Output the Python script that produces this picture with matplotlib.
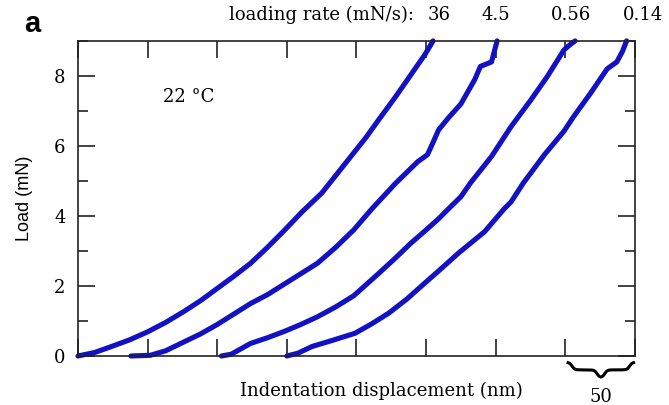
import numpy as np
import matplotlib.pyplot as plt
from matplotlib.ticker import MultipleLocator, NullFormatter

# loading curves, displacement (nm) vs load (mN)
c1_x = [0, 12, 24, 37, 50, 63, 76, 88, 100, 112, 124, 136, 148, 161, 175, 186,
        197, 207, 216, 228, 235, 242, 249, 255]
c1_y = [0, 0.1, 0.27, 0.46, 0.69, 0.96, 1.27, 1.58, 1.93, 2.28, 2.65, 3.1, 3.58,
        4.12, 4.65, 5.2, 5.75, 6.25, 6.75, 7.4, 7.8, 8.2, 8.6, 9.0]

c2_x = [38, 52, 63, 76, 88, 100, 112, 124, 136, 148, 160, 172, 185, 198, 211,
        228, 244, 251, 255, 259, 266, 275, 285, 289, 297, 301]
c2_y = [0, 0.02, 0.15, 0.4, 0.63, 0.9, 1.2, 1.5, 1.75, 2.05, 2.35, 2.65, 3.1,
        3.6, 4.2, 4.93, 5.55, 5.75, 6.1, 6.46, 6.8, 7.2, 7.9, 8.27, 8.4, 9.0]

c3_x = [103, 110, 124, 136, 148, 160, 172, 185, 198, 216, 228, 239, 250, 259,
        266, 275, 282, 297, 311, 325, 337, 349, 353, 357]
c3_y = [0, 0.05, 0.36, 0.52, 0.7, 0.9, 1.12, 1.4, 1.72, 2.36, 2.8, 3.22, 3.6,
        3.92, 4.2, 4.55, 4.95, 5.7, 6.55, 7.3, 7.98, 8.74, 8.88, 9.0]

c4_x = [150, 158, 168, 183, 199, 211, 223, 236, 249, 261, 273, 292, 306, 311,
        320, 335, 349, 356, 368, 380, 387, 391, 394]
c4_y = [0, 0.08, 0.27, 0.45, 0.65, 0.92, 1.22, 1.62, 2.08, 2.5, 2.93, 3.55, 4.2,
        4.4, 4.95, 5.75, 6.42, 6.84, 7.5, 8.2, 8.4, 8.7, 9.0]

rates = ["36", "4.5", "0.56", "0.14"]
rate_x = [259, 300, 354, 406]

plt.rcParams["font.family"] = ["DejaVu Serif"]

fig = plt.figure(figsize=(6.69, 4.05), dpi=100)
ax = fig.add_axes([0.1166, 0.121, 0.8325, 0.778])

blue = "#1212c4"
for xs, ys in ((c1_x, c1_y), (c2_x, c2_y), (c3_x, c3_y), (c4_x, c4_y)):
    ax.plot(xs, ys, color=blue, lw=3.7, solid_capstyle="round", clip_on=False)

ax.set_xlim(0, 400)
ax.set_ylim(0, 9)

ax.xaxis.set_major_locator(MultipleLocator(50))
ax.xaxis.set_major_formatter(NullFormatter())
ax.yaxis.set_major_locator(MultipleLocator(2))
ax.yaxis.set_minor_locator(MultipleLocator(1))
ax.tick_params(which="both", direction="in", top=True, right=True,
               width=1.2, color="#222222")
ax.tick_params(which="major", length=12.5, labelsize=13, pad=9)
ax.tick_params(which="minor", length=7)
ax.tick_params(axis="y", which="major", labelright=False)
for s in ax.spines.values():
    s.set_linewidth(1.2)
    s.set_color("#222222")

ax.set_ylabel("Load (mN)", fontsize=13, family="Liberation Sans")
ax.yaxis.set_label_coords(-0.081, 0.5)
ax.set_xlabel("Indentation displacement (nm)", fontsize=13)
ax.xaxis.set_label_coords(0.544, -0.083)

ax.text(61, 7.4, "22 °C", fontsize=13, va="center", ha="left")

ax.text(241, 9.75, "loading rate (mN/s):", fontsize=13, ha="right",
        va="center", clip_on=False)
for lab, xv in zip(rates, rate_x):
    ax.text(xv, 9.75, lab, fontsize=13, ha="center", va="center", clip_on=False)

fig.text(0.036, 0.94, "a", fontsize=21, fontweight="bold",
         family="Liberation Sans", va="center", ha="left")

# curly brace marking 50 nm
trans = ax.get_xaxis_transform()
t = np.linspace(0, 1, 200)
half = 0.5 * (1 / (1 + np.exp(-25 * (t - 0.12))) + 1 / (1 + np.exp(-25 * (t - 0.88))))
bx0, bx1 = 352, 399
xs_l = bx0 + (bx1 - bx0) / 2 * t
xs_r = bx1 - (bx1 - bx0) / 2 * t
ax.plot(np.r_[xs_l, xs_r[::-1]], np.r_[-0.02 - 0.048 * half, (-0.02 - 0.048 * half)[::-1]],
        color="black", lw=2.2, transform=trans, clip_on=False)
ax.text((bx0 + bx1) / 2, -0.13, "50", fontsize=13, ha="center", va="center",
        transform=trans)

fig.savefig("out.png", dpi=100)
